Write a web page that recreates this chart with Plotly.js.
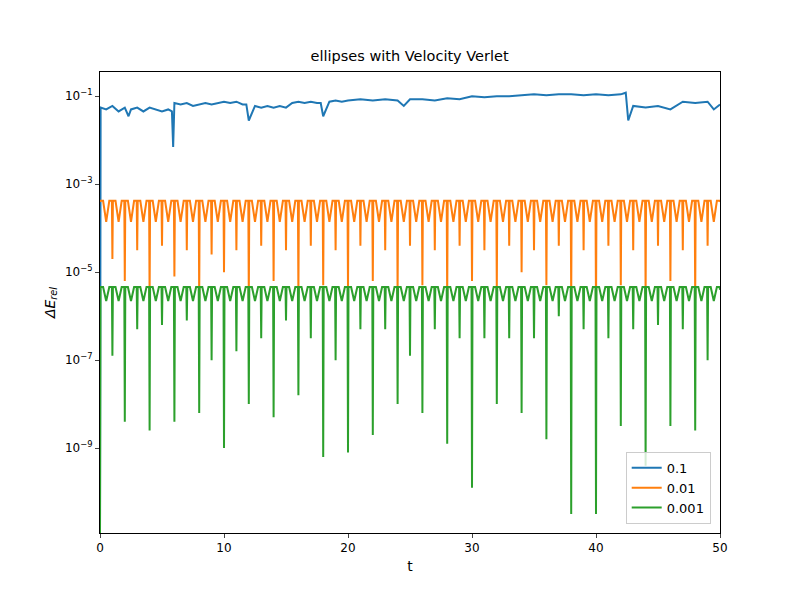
<!DOCTYPE html>
<html>
<head>
<meta charset="utf-8">
<script src="https://cdn.plot.ly/plotly-3.0.1.min.js"></script>
<style>body{margin:0}#plot{width:800px;height:600px}</style>
</head>
<body>
<div id="plot"></div>
<script>
// dt = 0.1 : relative energy error
const blueT = [0, 0.05, 0.5, 1, 1.5, 2, 2.3, 2.5, 3, 3.5, 4, 4.5, 5, 5.5, 5.8, 5.9, 6.0, 6.5, 7, 7.5, 8, 8.5, 9, 9.5, 10, 10.5, 11, 11.5, 11.8, 12.0, 12.5, 13, 13.5, 14, 14.5, 15, 15.5, 16, 16.5, 17, 17.5, 17.8, 18.0, 18.5, 19, 19.5, 20, 21, 22, 23, 24, 24.5, 25, 26, 27, 28, 29, 30, 31, 32, 33, 34, 35, 36, 37, 38, 39, 40, 41, 42, 42.4, 42.6, 43, 44, 45, 46, 47, 48, 49, 49.5, 50];
const blueV = [1e-11, 0.055, 0.05, 0.06, 0.045, 0.055, 0.035, 0.05, 0.055, 0.045, 0.055, 0.05, 0.045, 0.05, 0.045, 0.007, 0.07, 0.065, 0.07, 0.06, 0.065, 0.07, 0.065, 0.07, 0.075, 0.07, 0.075, 0.065, 0.065, 0.028, 0.06, 0.055, 0.06, 0.055, 0.06, 0.055, 0.07, 0.075, 0.07, 0.075, 0.07, 0.07, 0.035, 0.075, 0.08, 0.075, 0.08, 0.085, 0.08, 0.085, 0.08, 0.06, 0.085, 0.085, 0.08, 0.09, 0.085, 0.1, 0.095, 0.1, 0.1, 0.105, 0.11, 0.105, 0.11, 0.11, 0.105, 0.11, 0.105, 0.11, 0.12, 0.028, 0.06, 0.055, 0.06, 0.05, 0.075, 0.07, 0.075, 0.05, 0.065];

// dt = 0.01 and dt = 0.001: level of the plateau, half-period dips, and spike depth (log10) at each integer t
const orangeTop = 4.2e-4;
const orangeHalf = 1.4e-4;
const orangeSpikes = [-3.4, -4.7, -5.2, -4.5, -5.6, -4.4, -5.1, -4.5, -5.6, -4.6, -5.0, -4.5, -5.6, -4.4, -5.2, -4.5, -5.5, -4.4, -5.3, -4.5, -5.4, -4.4, -5.2, -4.5, -5.5, -4.4, -5.3, -4.5, -5.6, -4.4, -5.2, -4.5, -5.4, -4.4, -5.0, -4.5, -5.3, -4.4, -5.6, -4.5, -5.9, -4.4, -5.3, -4.5, -5.5, -4.4, -5.2, -4.5, -5.6, -4.4, -3.4];
const greenTop = 4.6e-6;
const greenHalf = 2.2e-6;
const greenSpikes = [-11, -6.9, -8.4, -6.3, -8.6, -6.2, -8.4, -6.1, -8.2, -7.0, -9.0, -6.8, -8.0, -6.5, -8.3, -6.1, -7.8, -6.5, -9.2, -7.0, -9.1, -6.3, -8.7, -6.3, -8.0, -6.9, -8.2, -6.3, -8.9, -6.5, -9.9, -6.5, -8.0, -6.5, -8.2, -6.5, -8.8, -6.0, -10.5, -6.3, -10.5, -6.5, -8.5, -6.3, -9.4, -6.2, -8.5, -6.3, -8.6, -7.0, -5.4];

function buildSeries(top, half, spikes) {
    const t = [], v = [];
    spikes.forEach((s, n) => {
        if (n > 0) { t.push(n - 0.04); v.push(top); }
        t.push(n); v.push(Math.pow(10, s));
        if (n < spikes.length - 1) {
            t.push(n + 0.04, n + 0.25, n + 0.5, n + 0.75);
            v.push(top, top, half, top);
        }
    });
    return { t, v };
}

const orange = buildSeries(orangeTop, orangeHalf, orangeSpikes);
const green = buildSeries(greenTop, greenHalf, greenSpikes);

const traces = [
    { x: blueT, y: blueV, mode: 'lines', name: '0.1', line: { color: '#1f77b4', width: 2 } },
    { x: orange.t, y: orange.v, mode: 'lines', name: '0.01', line: { color: '#ff7f0e', width: 2 } },
    { x: green.t, y: green.v, mode: 'lines', name: '0.001', line: { color: '#2ca02c', width: 2 } }
];

const yTicks = [1e-1, 1e-3, 1e-5, 1e-7, 1e-9];
const yLabels = ['10<sup>−1</sup>', '10<sup>−3</sup>', '10<sup>−5</sup>', '10<sup>−7</sup>', '10<sup>−9</sup>'];

const layout = {
    width: 800, height: 600,
    margin: { l: 100, r: 80, t: 72, b: 67 },
    paper_bgcolor: 'white', plot_bgcolor: 'white',
    font: { family: 'DejaVu Sans', size: 12, color: 'black' },
    title: { text: 'ellipses with Velocity Verlet', x: 0.512, y: 0.915, font: { size: 14.5 } },
    xaxis: {
        range: [0, 50], tickvals: [0, 10, 20, 30, 40, 50],
        showline: true, mirror: true, linecolor: 'black', ticks: 'outside', ticklen: 4,
        showgrid: false, zeroline: false,
        title: { text: 't', standoff: 6 }
    },
    yaxis: {
        type: 'log', range: [-10.93, -0.45], tickvals: yTicks, ticktext: yLabels,
        showline: true, mirror: true, linecolor: 'black', ticks: 'outside', ticklen: 4,
        showgrid: false, zeroline: false,
        title: { text: '<i>ΔE</i><sub><i>rel</i></sub>', standoff: 6 }
    },
    legend: {
        x: 0.985, y: 0.02, xanchor: 'right', yanchor: 'bottom',
        bordercolor: '#cccccc', borderwidth: 1, bgcolor: 'rgba(255,255,255,0.8)',
        font: { size: 13 }
    }
};

Plotly.newPlot('plot', traces, layout, { displayModeBar: false });
</script>
</body>
</html>
